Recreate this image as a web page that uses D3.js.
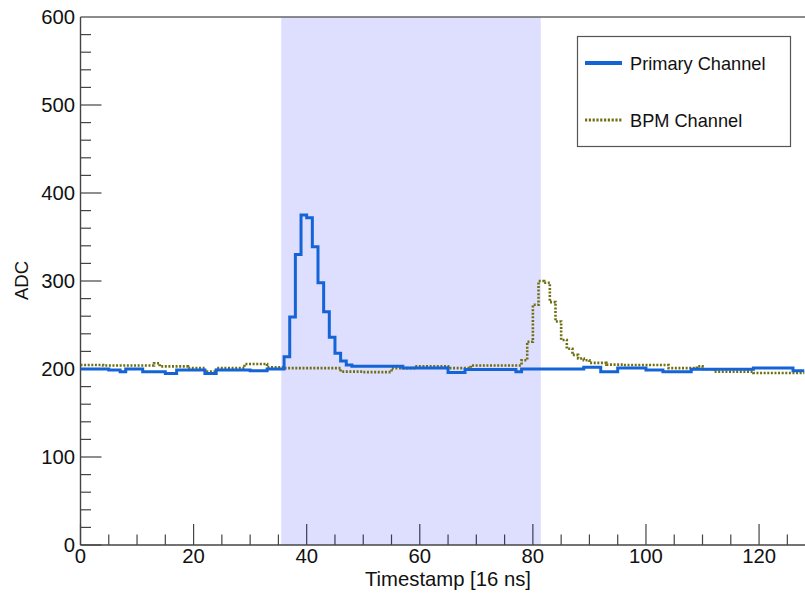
<!DOCTYPE html>
<html>
<head>
<meta charset="utf-8">
<script src="https://cdn.jsdelivr.net/npm/d3@7"></script>
<style>
  html, body { margin: 0; padding: 0; background: #fff; }
  svg { display: block; }
  text { font-family: "Liberation Sans", Arial, Helvetica, sans-serif; fill: #111; }
</style>
</head>
<body>
<svg id="chart" width="805" height="596"></svg>
<script>
// ---- data (bin i covers [i, i+1) in timestamp units) ----
const primaryValues = [
  200,200,200,200,200, 199,199, 197, 200,200,200, 197,197,197,197, 195,195,
  199,199,199,199,199, 195,195, 199,199,199,199,199,199, 198,198,198, 200,200,200,
  214,259,330,375,372,339,298,265,236,218,209,204.5,
  203,203,203,203,203,203,203,203,203,
  201,201,201,201,201,201,201,201,
  196,196,196,
  199.5,199.5,199.5,199.5,199.5,199.5,199.5,199.5,199.5,
  197,
  200,200,200,200,200,200,200,
  200,200,200,200,
  202,202,202,
  197,197,197,
  201,201,201,201,201,
  199,199,199,
  197,197,197,197,197,
  199.7,199.7,199.7,199.7,199.7,199.7,199.7,199.7,199.7,199.7,199.7,
  201,201,201,201,201,201,201,
  198,198
];
const bpmValues = [
  204.5,204.5,204.5,204.5,
  204,204,204,204,204,204,204,204,204,
  206.5,
  203,203,203,203,203,
  201,201,201,
  197,197,
  201,201,201,201,201,
  205.7,205.7,205.7,205.7,
  202,202,202,
  201,201,201,201,201,201,201,201,201,201,
  197,197,197,197,
  196.5,196.5,196.5,196.5,196.5,
  201,201,201,201,
  203,203,203,203,203,203,
  201,201,201,201,
  204,204,204,204,204,204,204,204,204,
  210,231,273,300,298,276,254,233,223,216,212,210,
  207,207,207,
  205,205,205,
  204.5,204.5,204.5,204.5,204.5,204.5,204.5,204.5,
  201,201,201,201,201,
  203,
  199.7,199.7,
  197,197,197,197,197,197,197,
  195.5,195.5,195.5,195.5,195.5,195.5,195.5,195.5,195.5
];
const seriesNames = ["Primary Channel", "BPM Channel"];
const xTickLabels = [0, 20, 40, 60, 80, 100, 120];
const yTickLabels = [0, 100, 200, 300, 400, 500, 600];
const shadedWindow = [35.5, 81.4];
const xTitle = "Timestamp [16 ns]";
const yTitle = "ADC";

(function draw() {
  const svg = d3.select("#chart");
  const W = 805;
  const pL = 80.5, pR = 804.3, pT = 17, pB = 545;
  const x = d3.scaleLinear().domain([0, 128]).range([pL, pR]);
  const y = d3.scaleLinear().domain([0, 600]).range([pB, pT]);
  const axisColor = "#444";

  svg.append("defs").append("clipPath").attr("id", "plotClip")
    .append("rect").attr("x", pL).attr("y", pT).attr("width", W - pL).attr("height", pB - pT);

  // ticks (inward)
  const gTicks = svg.append("g").attr("stroke", axisColor).attr("stroke-width", 1.2);
  d3.range(0, 128, 5).forEach(v => {
    const major = v % 20 === 0;
    gTicks.append("line").attr("x1", x(v)).attr("x2", x(v))
      .attr("y1", pB).attr("y2", pB - (major ? 21 : 10.5));
  });
  d3.range(0, 600, 20).forEach(v => {
    const major = v % 100 === 0;
    gTicks.append("line").attr("x1", pL).attr("x2", pL + (major ? 21 : 10.5))
      .attr("y1", y(v)).attr("y2", y(v));
  });

  // shaded window
  svg.append("rect")
    .attr("x", x(shadedWindow[0])).attr("y", pT)
    .attr("width", x(shadedWindow[1]) - x(shadedWindow[0]))
    .attr("height", pB - pT)
    .attr("fill", "rgb(0,0,255)").attr("fill-opacity", 0.13);

  // frame lines
  svg.append("line").attr("x1", pL).attr("x2", W).attr("y1", pT).attr("y2", pT)
    .attr("stroke", "#666").attr("stroke-width", 1.6);
  svg.append("line").attr("x1", pL).attr("x2", pL).attr("y1", pT).attr("y2", pB)
    .attr("stroke", axisColor).attr("stroke-width", 1.4);
  svg.append("line").attr("x1", pL).attr("x2", W).attr("y1", pB).attr("y2", pB)
    .attr("stroke", axisColor).attr("stroke-width", 1.4);

  // step histograms
  function stepPoints(vals) {
    const pts = vals.map((v, i) => [i, v]);
    pts.push([vals.length, vals[vals.length - 1]]);
    return pts;
  }
  const stepLine = d3.line().x(d => x(d[0])).y(d => y(d[1])).curve(d3.curveStepAfter);
  const gLines = svg.append("g").attr("clip-path", "url(#plotClip)");
  gLines.append("path").datum(stepPoints(bpmValues))
    .attr("d", stepLine).attr("fill", "none")
    .attr("stroke", "#6f6f12").attr("stroke-width", 2.6).attr("stroke-dasharray", "2,1.6");
  gLines.append("path").datum(stepPoints(primaryValues))
    .attr("d", stepLine).attr("fill", "none")
    .attr("stroke", "#1464d8").attr("stroke-width", 3);

  // tick labels
  const fs = 20.3;
  svg.append("g").selectAll("text").data(xTickLabels).join("text")
    .attr("x", d => x(d)).attr("y", 563).attr("text-anchor", "middle")
    .attr("font-size", fs).text(d => d);
  svg.append("g").selectAll("text").data(yTickLabels).join("text")
    .attr("x", 75).attr("y", d => y(d) + 7).attr("text-anchor", "end")
    .attr("font-size", fs).text(d => d);

  // axis titles
  svg.append("text").attr("x", 531).attr("y", 586).attr("text-anchor", "end")
    .attr("font-size", fs).text(xTitle);
  svg.append("text").attr("transform", "translate(28,300) rotate(-90)")
    .attr("text-anchor", "start").attr("font-size", 18.5).text(yTitle);

  // legend
  const lg = svg.append("g");
  lg.append("rect").attr("x", 577.5).attr("y", 36.5).attr("width", 213).attr("height", 110)
    .attr("fill", "#fff").attr("stroke", "#555").attr("stroke-width", 1.2);
  const legendRows = [
    { name: seriesNames[0], y: 63, color: "#1464d8", dash: null, w: 4 },
    { name: seriesNames[1], y: 120, color: "#6f6f12", dash: "2.2,1.6", w: 3 }
  ];
  legendRows.forEach(r => {
    const l = lg.append("line").attr("x1", 585).attr("x2", 622).attr("y1", r.y).attr("y2", r.y)
      .attr("stroke", r.color).attr("stroke-width", r.w);
    if (r.dash) l.attr("stroke-dasharray", r.dash);
    lg.append("text").attr("x", 630).attr("y", r.y + 6.5).attr("font-size", 18.2).text(r.name);
  });
})();
</script>
</body>
</html>
